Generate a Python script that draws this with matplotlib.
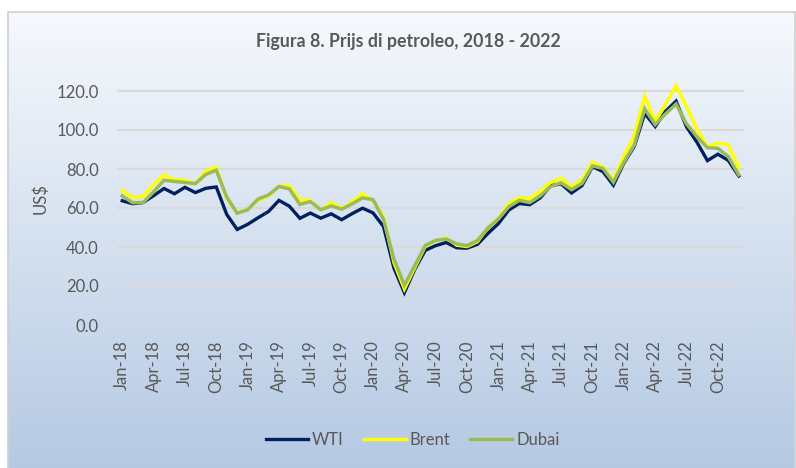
import numpy as np
import matplotlib
matplotlib.use("Agg")
import matplotlib.pyplot as plt
from matplotlib.patches import Rectangle

plt.rcParams['font.family'] = ['Lato', 'DejaVu Sans']

# ---- data ----
months = ['Jan', 'Feb', 'Mar', 'Apr', 'May', 'Jun', 'Jul', 'Aug', 'Sep', 'Oct', 'Nov', 'Dec']
years = ['18', '19', '20', '21', '22']
categories = [f"{m}-{y}" for y in years for m in months]

wti = [63.7, 62.2, 62.8, 66.3, 70.0, 67.3, 70.6, 67.9, 70.1, 70.8, 56.7, 49.0,
       51.6, 55.0, 58.2, 63.9, 60.9, 54.7, 57.4, 54.8, 57.0, 54.0, 57.1, 59.9,
       57.5, 50.5, 29.2, 16.6, 28.6, 38.3, 40.7, 42.3, 39.6, 39.4, 41.4, 47.0,
       52.0, 59.0, 62.3, 61.7, 65.2, 71.4, 72.4, 67.7, 71.5, 81.2, 78.7, 71.7,
       83.0, 91.6, 108.5, 101.8, 109.6, 114.8, 101.6, 93.7, 84.3, 87.6, 84.4, 76.4]
brent = [69.1, 65.3, 66.0, 72.1, 77.0, 74.4, 74.3, 72.5, 78.9, 81.0, 64.8, 57.4,
         59.4, 64.0, 66.1, 71.2, 71.3, 64.2, 63.9, 59.0, 62.8, 59.7, 63.2, 67.3,
         63.7, 55.7, 32.0, 18.4, 29.4, 40.3, 43.2, 44.7, 40.9, 40.2, 42.7, 50.0,
         54.8, 62.3, 65.4, 64.8, 68.5, 73.2, 75.2, 70.8, 74.5, 83.5, 81.1, 74.2,
         86.5, 97.1, 117.3, 104.6, 113.3, 122.7, 111.9, 100.5, 91.3, 93.3, 92.4, 80.9]
dubai = [66.2, 62.7, 62.8, 68.3, 74.2, 73.6, 73.1, 72.5, 77.2, 79.4, 65.6, 57.3,
         59.1, 64.6, 66.7, 71.0, 69.8, 61.8, 63.3, 59.1, 61.1, 59.4, 62.1, 65.2,
         64.3, 54.2, 33.9, 20.4, 30.5, 40.8, 43.4, 44.1, 41.6, 40.7, 43.4, 49.8,
         54.4, 60.7, 63.9, 62.8, 66.2, 71.0, 72.9, 69.4, 72.6, 81.6, 80.3, 73.2,
         83.5, 92.3, 110.9, 102.8, 108.3, 113.3, 103.1, 96.6, 90.9, 90.6, 86.3, 77.0]
yticks = [0, 20, 40, 60, 80, 100, 120]

W, H = 796, 468
fig = plt.figure(figsize=(W / 100, H / 100), dpi=100, facecolor='white')

# background gradient panel
bg = fig.add_axes([0, 0, 1, 1])
bg.set_xlim(0, W)
bg.set_ylim(H, 0)
bg.axis('off')
grad = np.linspace(0, 1, 256).reshape(-1, 1)
top = np.array([0.965, 0.975, 0.99])
bot = np.array([0.71, 0.79, 0.89])
img = top + (bot - top) * grad[..., None]
img = img.reshape(256, 1, 3)
bg.imshow(img, extent=[8, W - 1, H, 12], aspect='auto', interpolation='bilinear')
bg.add_patch(Rectangle((8, 12), W - 9, H - 11, fill=False, edgecolor='#D0D0D0', lw=1.2))

# main axes
x_left, x_right = 117, 744
y_zero, px_per = 325, 1.95
ymax = 130
y_top = y_zero - ymax * px_per
ax = fig.add_axes([x_left / W, (H - y_zero) / H, (x_right - x_left) / W, (y_zero - y_top) / H])
ax.patch.set_alpha(0)
x = np.arange(len(categories))
ax.plot(x, wti, color='#002060', lw=2.4, label='WTI', solid_joinstyle='miter')
ax.plot(x, brent, color='#FFFF00', lw=2.4, label='Brent', solid_joinstyle='miter')
ax.plot(x, dubai, color='#9BBB59', lw=2.5, label='Dubai', solid_joinstyle='miter')
ax.set_xlim(-0.5, len(categories) - 0.5)
ax.set_ylim(0, ymax)
ax.set_yticks(yticks)
ax.set_yticklabels([f"{v:.1f}" for v in yticks])
ax.set_xticks(x[::3])
ax.set_xticklabels(categories[::3], rotation=90)
ax.grid(axis='y', color='#D9D9D9', lw=1.5)
ax.set_axisbelow(True)
for s in ax.spines.values():
    s.set_visible(False)
ax.tick_params(axis='both', length=0, colors='#595959', labelsize=12)
ax.tick_params(axis='y', pad=13)
ax.tick_params(axis='x', pad=11)
ax.set_ylabel('US$', color='#595959', fontsize=12, labelpad=6)

fig.text(408 / W, 1 - 42 / H, 'Figura 8. Prijs di petroleo, 2018 - 2022',
         ha='center', va='center', fontsize=12.8, fontweight='bold', color='#595959')

fig.legend(loc='center', bbox_to_anchor=(413 / W, 28 / H), ncol=3, frameon=False,
           fontsize=12, labelcolor='#595959', handlelength=2.5, handletextpad=0.25,
           columnspacing=1.2)

fig.savefig('out.png', dpi=100, facecolor='white')
